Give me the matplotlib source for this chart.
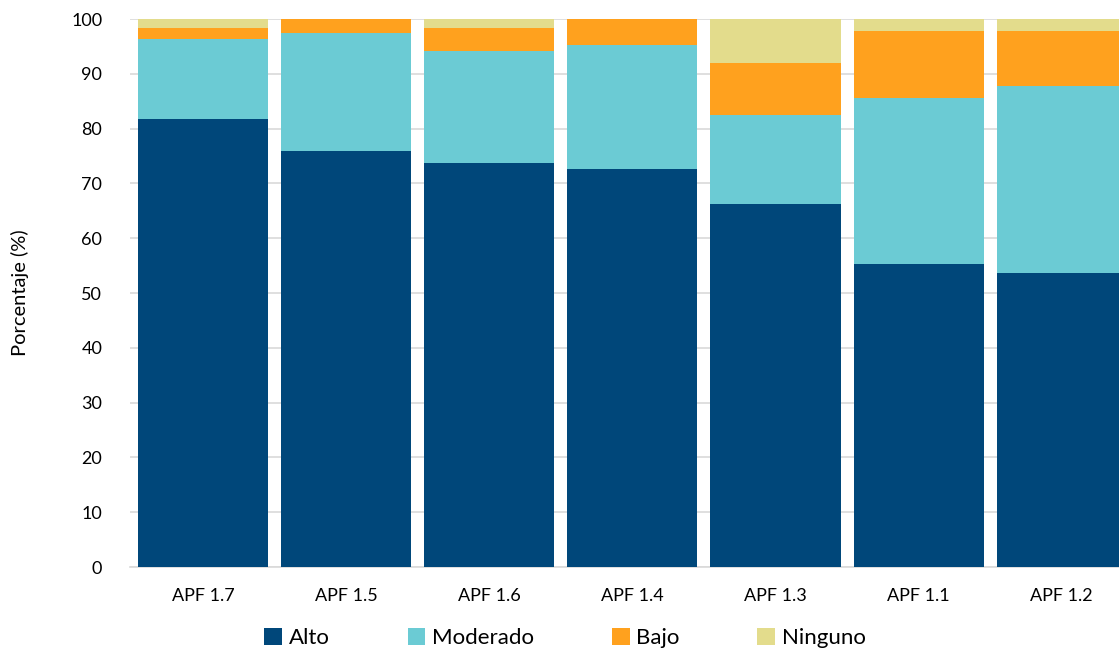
import matplotlib
matplotlib.use("Agg")
import matplotlib.pyplot as plt
import numpy as np

categories = ["APF 1.7", "APF 1.5", "APF 1.6", "APF 1.4", "APF 1.3", "APF 1.1", "APF 1.2"]
alto = [81.8, 75.9, 73.7, 72.6, 66.2, 55.3, 53.7]
moderado = [14.5, 21.5, 20.4, 22.6, 16.2, 30.2, 34.0]
bajo = [2.1, 2.6, 4.3, 4.8, 9.6, 12.4, 10.2]
ninguno = [1.6, 0.0, 1.6, 0.0, 8.0, 2.1, 2.1]
series_names = ["Alto", "Moderado", "Bajo", "Ninguno"]
colors = ["#00477A", "#6BCBD4", "#FFA11E", "#E3DC8C"]

plt.rcParams['font.family'] = ['Lato', 'DejaVu Sans']

fig = plt.figure(figsize=(11.19, 6.51), dpi=100)
ax = fig.add_axes([130/1119, 84/651, (1119-130)/1119, 548/651])

x = np.arange(len(categories))
bottom = np.zeros(len(categories))
for name, vals, c in zip(series_names, [alto, moderado, bajo, ninguno], colors):
    ax.bar(x, vals, width=0.91, bottom=bottom, color=c, label=name, zorder=3)
    bottom += np.array(vals)

ax.set_xlim(-0.51, 6.40)
ax.set_ylim(0, 100)
ax.set_yticks(range(0, 101, 10))
ax.set_xticks(x)
ax.set_xticklabels(categories)
ax.tick_params(axis='both', length=0, labelsize=13, colors="#000000")
ax.tick_params(axis='x', pad=15)
ax.tick_params(axis='y', pad=20)
ax.grid(axis='y', color="#D9D9D9", linewidth=1.2, zorder=0)
for s in ["top", "right", "left"]:
    ax.spines[s].set_visible(False)
ax.spines["bottom"].set_color("#D9D9D9")
ax.spines["bottom"].set_linewidth(1.2)
ax.set_ylabel("Porcentaje (%)", fontsize=14.5, labelpad=30)

fig.legend(loc="lower center", bbox_to_anchor=(0.505, -0.026), ncol=4, frameon=False,
           fontsize=16, handlelength=0.8, handleheight=0.8, handletextpad=0.3,
           columnspacing=3.5)

fig.savefig("out.png", dpi=100)
